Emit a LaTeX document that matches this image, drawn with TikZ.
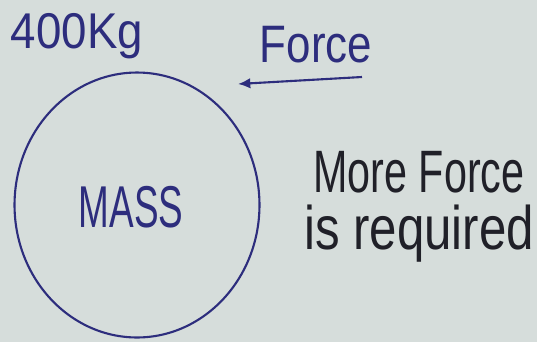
\documentclass[tikz,border=0pt]{standalone}
\usepackage{fontspec}
\setmainfont{Liberation Sans}
\usetikzlibrary{arrows.meta,shapes.geometric}
\definecolor{paper}{RGB}{214,221,219}
\definecolor{blueink}{RGB}{45,45,125}
\definecolor{darkink}{RGB}{32,32,40}

\begin{document}
\begin{tikzpicture}[
  x=0.02cm, y=-0.02cm,
  ink/.style={blueink, line width=1.2pt},
  scribble/.style={inner sep=0pt, yscale=#1, transform shape},
  scribble/.default=1.3
]
  \fill[paper] (0,0) rectangle (537,342);
  \useasboundingbox (0,0) rectangle (537,342);
  % the body
  \node[ellipse, draw=blueink, line width=1.2pt, minimum width=4.9cm, minimum height=5.3cm] (body) at (137,205) {};
  \node[scribble=1.6, text=blueink, font=\fontsize{21}{21}\selectfont] (mass) at (131,207) {MASS};
  % labels on top
  \node[scribble=1.1, text=blueink, font=\fontsize{26}{26}\selectfont] (weight) at (77,36) {400Kg};
  \node[scribble=1.2, text=blueink, font=\fontsize{25}{25}\selectfont] (force) at (316,45) {Force};
  \coordinate (tail) at (362,77);
  \coordinate (head) at (238,84);
  \draw[ink, -{Latex[length=7pt,width=6pt]}] (tail) -- (head);
  % note on the right
  \node[scribble=1.45, text=darkink, font=\fontsize{23.5}{23.5}\selectfont] (more) at (419,172) {More Force};
  \node[scribble=1.25, text=darkink, font=\fontsize{28}{28}\selectfont] (req) at (419,234) {is required};
\end{tikzpicture}
\end{document}
